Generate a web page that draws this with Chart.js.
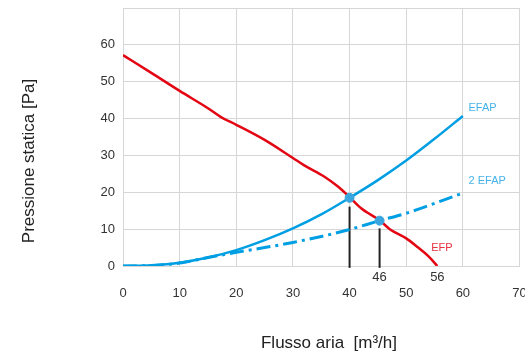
<!DOCTYPE html>
<html>
<head>
<meta charset="utf-8">
<script src="https://cdn.jsdelivr.net/npm/chart.js@4/dist/chart.umd.min.js"></script>
<style>
  html, body { margin: 0; padding: 0; background: #fff; }
  #wrap { width: 525px; height: 360px; }
</style>
</head>
<body>
<div id="wrap"><canvas id="chart" width="525" height="360"></canvas></div>
<script>
// EFP curve (fan)
const efpX = [0, 5, 10, 15, 17.3, 20, 25, 30, 32, 35.5, 38, 40, 42.1, 45.3, 47.1, 50, 52.1, 53.9, 55.5];
const efpY = [57.2, 52.4, 47.5, 42.8, 40.4, 38.3, 34.2, 29.3, 27.3, 24.3, 21.5, 18.7, 15.6, 12.4, 10.0, 7.5, 5.0, 2.7, 0];

// EFAP curve (single)
const efapX = [0, 5, 10, 15, 20, 25, 30, 35, 40, 45, 50, 55, 60];
const efapY = [0, 0.2, 0.9, 2.3, 4.3, 7.0, 10.2, 14.0, 18.5, 23.3, 28.6, 34.5, 40.7];

// 2 EFAP curve (dash-dot)
const efap2X = [0, 5, 10, 15, 20, 25, 30, 35, 40, 45.3, 50, 55, 60];
const efap2Y = [0, 0.1, 0.8, 2.3, 3.7, 5.0, 6.4, 8.0, 9.9, 12.3, 14.3, 17.0, 19.8];

// operating points
const opX = [40, 45.3];
const opY = [18.5, 12.3];
const dropTop = [16.1, 10.2];

const xTicks = [0, 10, 20, 30, 40, 50, 60, 70];
const yTicks = [0, 10, 20, 30, 40, 50, 60];

const RED = '#e30613';
const BLUE = '#009ee2';
const GRID = '#d6d6d6';
const FONT = '"Liberation Sans", Arial, Helvetica, sans-serif';

const pts = (xs, ys) => xs.map((x, i) => ({ x: x, y: ys[i] }));

const datasets = [
  { label: 'EFP', data: pts(efpX, efpY), borderColor: RED, borderWidth: 2.5, pointRadius: 0, cubicInterpolationMode: 'monotone', order: 3 },
  { label: 'EFAP', data: pts(efapX, efapY), borderColor: BLUE, borderWidth: 2.5, pointRadius: 0, cubicInterpolationMode: 'monotone', order: 2 },
  { label: '2 EFAP', data: pts(efap2X, efap2Y), borderColor: BLUE, borderWidth: 3, borderDash: [14, 5, 3, 5], pointRadius: 0, cubicInterpolationMode: 'monotone', order: 2 }
];
opX.forEach((x, i) => {
  datasets.push({ data: [{ x: x, y: -0.5 }, { x: x, y: dropTop[i] }], borderColor: '#222', borderWidth: 2, pointRadius: 0, clip: false, order: 4 });
});
datasets.push({ type: 'scatter', data: pts(opX, opY), backgroundColor: '#3aa6dd', borderColor: '#3aa6dd', pointRadius: 4.5, order: 0 });

// text placed at data coordinates
const curveLabels = [
  { text: 'EFAP', x: 61.0, y: 43.0, color: '#45b3e8' },
  { text: '2 EFAP', x: 61.0, y: 23.2, color: '#45b3e8' },
  { text: 'EFP', x: 54.4, y: 5.0, color: '#e8303f' }
];
const axisMarks = [
  { text: '46', x: 45.3 },
  { text: '56', x: 55.5 }
];

const textPlugin = {
  id: 'texts',
  afterDraw(chart) {
    const ctx = chart.ctx;
    const xs = chart.scales.x, ys = chart.scales.y;
    ctx.save();
    ctx.font = '11px ' + FONT;
    ctx.textBaseline = 'middle';
    ctx.textAlign = 'left';
    curveLabels.forEach(l => {
      ctx.fillStyle = l.color;
      ctx.fillText(l.text, xs.getPixelForValue(l.x), ys.getPixelForValue(l.y));
    });
    ctx.font = '13px ' + FONT;
    ctx.fillStyle = '#333';
    ctx.textAlign = 'center';
    axisMarks.forEach(m => {
      ctx.fillText(m.text, xs.getPixelForValue(m.x), ys.bottom + 11);
    });
    // axis titles
    ctx.fillStyle = '#222';
    ctx.font = '17px ' + FONT;
    ctx.fillText('Flusso aria  [m\u00b3/h]', 329, 343);
    ctx.translate(29, 161);
    ctx.rotate(-Math.PI / 2);
    ctx.fillText('Pressione statica [Pa]', 0, 0);
    ctx.restore();
  }
};

new Chart(document.getElementById('chart'), {
  type: 'line',
  data: { datasets: datasets },
  options: {
    responsive: false,
    animation: false,
    layout: { padding: { top: 8, right: 5, left: 0, bottom: 0 } },
    plugins: { legend: { display: false }, tooltip: { enabled: false } },
    scales: {
      x: {
        type: 'linear', min: 0, max: 70,
        afterBuildTicks: s => { s.ticks = xTicks.map(v => ({ value: v })); },
        afterFit: s => { s.height = 94; s.paddingLeft = 0; s.paddingRight = 0; },
        grid: { color: GRID, drawTicks: false, lineWidth: 1 },
        border: { color: GRID },
        ticks: { padding: 20, color: '#333', font: { family: FONT, size: 13 }, maxRotation: 0 }
      },
      y: {
        min: 0, max: 70,
        afterBuildTicks: s => { s.ticks = yTicks.concat([70]).map(v => ({ value: v })); },
        afterFit: s => { s.width = 123; s.paddingTop = 0; s.paddingBottom = 0; },
        grid: { color: GRID, drawTicks: false, lineWidth: 1 },
        border: { color: GRID },
        ticks: { padding: 8, color: '#333', font: { family: FONT, size: 13 }, callback: v => (v === 70 ? '' : v) }
      }
    }
  },
  plugins: [textPlugin]
});
</script>
</body>
</html>
